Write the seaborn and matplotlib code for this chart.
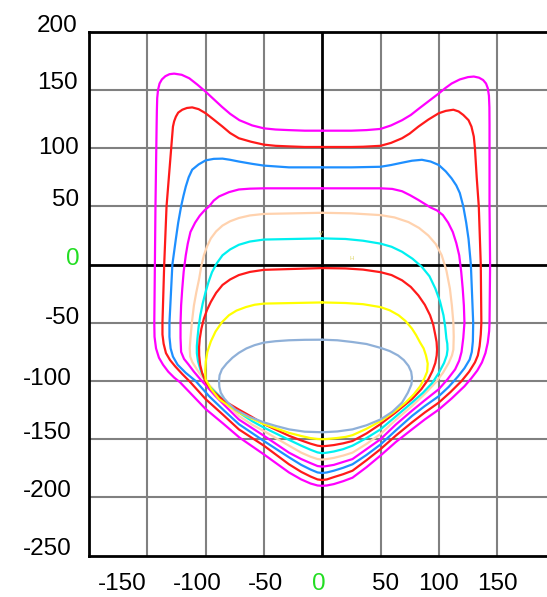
import matplotlib
matplotlib.use("Agg")
import matplotlib.pyplot as plt
import seaborn as sns
import pandas as pd

# ---- data ----
xtick_vals = [-150, -100, -50, 0, 50, 100, 150]
ytick_vals = [-250, -200, -150, -100, -50, 0, 50, 100, 150, 200]
grid_x = [-150, -100, -50, 50, 100, 150]
grid_y = [-200, -150, -100, -50, 50, 100, 150]

c1_x = [0, -15, -29, -40, -50, -60, -71, -79, -86, -93, -100, -107, -114, -120.5, -127, -131, -134.5, -137.5, -139.5, -140.8, -141.5, -141.8, -142, -142.5, -143, -143.5, -144, -143.8, -142.5, -140, -136.5, -132, -127, -122, -111, -100, -85, -71, -50, -28.5, -18, -10, -4, 0, 4, 10, 18, 26, 38, 50, 63, 77, 88, 100, 111, 122, 128, 133, 137, 140, 142, 143.2, 143.5, 144, 143.5, 143.5, 143.5, 143.4, 143, 142, 140.5, 138, 134.5, 130, 125, 118, 111, 105.5, 100, 91.5, 83, 76, 68.5, 59, 50, 38, 25, 0]
c1_y = [115, 115, 115.5, 116, 117, 119.5, 124, 129.5, 135.5, 142, 148.5, 154.5, 160, 163, 164, 163.5, 161.8, 159, 155.5, 150, 143, 132, 120, 85, 50, 0, -50, -62, -72, -80, -86, -92, -97, -101, -112.5, -124, -136.5, -148.5, -163, -178.5, -184.5, -188, -189.7, -190, -189.7, -188.5, -186, -183, -174, -164, -152.5, -141.5, -133, -124.5, -115, -104.5, -97.5, -91, -84, -76, -67, -57, -50, 0, 50, 85, 120, 135, 145, 151.5, 155.5, 158.5, 160.5, 161.5, 161, 159, 155.5, 151.5, 147, 140.5, 134, 128.5, 124, 119.5, 116.5, 115.5, 115, 115]

c2_x = [0, -15, -28.5, -40, -50, -61, -71.5, -79, -85.5, -93, -100, -106, -111.5, -116, -120, -123.5, -125.5, -127, -128, -128.7, -129.5, -131.5, -133.5, -135.5, -137, -137, -136, -134, -130.5, -126, -120, -114, -100, -85, -71.5, -50, -28.5, -18, -10, -4, 0, 4, 10, 18, 26, 38, 50, 63, 77, 88, 100, 110, 119.5, 126, 131, 133.5, 135, 136, 136.5, 136, 134.3, 132.5, 131, 130, 128, 125.5, 121, 117, 112.5, 106, 100, 91, 82.5, 75, 68.5, 59, 50, 35, 25, 0]
c2_y = [101, 101, 101.5, 102, 103, 105.5, 108.5, 113, 118.5, 124.5, 130, 133.5, 135, 134.5, 133, 130.5, 127, 123, 118.5, 110, 100, 75, 50, 0, -50, -60, -68, -76, -82, -87.5, -94, -100, -115.5, -129, -141.5, -155.5, -171.5, -178, -182, -184.5, -185, -184.5, -182.5, -180, -177, -168, -158.5, -147, -135.5, -127, -118.5, -109.5, -100, -92, -84, -78, -70, -60, -50, 0, 50, 75, 100, 110, 118.5, 124, 128.5, 131.5, 133, 132, 130, 124.5, 118.5, 112.5, 108.5, 104.5, 102, 101.2, 101, 101]

c3_x = [0, -28.5, -50, -60, -71.5, -79, -85.5, -93, -100, -106, -111.5, -114.5, -117, -119, -121, -123.5, -125.5, -128.5, -131, -131, -130, -128, -124, -117, -108.5, -97, -84, -71.5, -50, -28.5, -18, -10, -4, 0, 4, 10, 18, 26, 38, 50, 63, 77, 88, 100, 108.5, 116.5, 122, 126.5, 128.3, 129.2, 129.5, 127.5, 125.5, 123.5, 121, 118, 115, 111, 106, 100, 93, 85.5, 77, 68.5, 59, 50, 25, 0]
c3_y = [83.5, 83.5, 85, 86.5, 88.5, 90, 91, 90.8, 89.5, 86, 81.5, 75, 67, 59, 50, 36, 22, 0, -50, -62, -72, -79, -86, -93, -100, -113, -125.5, -137, -151.5, -165.5, -172, -176, -178.5, -179, -178.5, -177, -174.5, -171.5, -163.5, -154.5, -142.5, -130, -121.5, -113, -105, -96, -89, -81.5, -75, -66, -50, 0, 22, 36, 50, 61.5, 68, 74, 80, 85.5, 88.5, 90, 89.2, 87.5, 85.5, 84, 83.5, 83.5]

c4_x = [0, -50, -62, -71.5, -80, -88.5, -93, -97, -101, -105, -109, -113, -115.3, -117, -118.8, -120, -121, -121.5, -121.5, -121, -118.5, -114.5, -110, -104.5, -91.5, -82, -71.5, -50, -28.5, -18, -10, -4, 0, 4, 10, 18, 26, 38, 50, 63, 77, 88, 100, 107.5, 114, 117.5, 119.5, 121, 122, 121.5, 120.5, 119.2, 117.5, 115, 112, 108, 103.5, 98.5, 93, 82.5, 75.5, 68.5, 60, 50, 0]
c4_y = [65.5, 65.5, 65.2, 64.5, 62.2, 58.5, 55, 50, 46.5, 42, 36, 28, 18, 8, -6, -20.5, -35, -50, -63, -75, -81, -86, -92, -98.5, -113, -122.5, -133, -147, -161.5, -167, -170.5, -173, -173.5, -173, -172, -169.5, -167, -158.5, -150, -137.5, -125.5, -116.5, -107, -98.5, -90, -82.5, -75, -63, -50, -35, -20.5, -6, 8, 18.5, 28, 36, 42.5, 46.5, 49, 55.5, 59.5, 63, 65, 65.5, 65.5]

c5_x = [0, -50, -62, -71.5, -79, -85.5, -91, -95.5, -98.8, -101.5, -103.8, -105.5, -108, -110, -111.8, -113, -113.6, -113.2, -111.5, -110, -105.5, -100, -85.5, -71.5, -60, -50, -28.5, -18, -10, -4, 0, 4, 10, 18, 26, 38, 50, 63, 77, 88, 97, 103.5, 108.5, 111.3, 112.5, 112.8, 112.5, 111.2, 109.5, 106.5, 102.5, 97.5, 91, 83, 74, 62, 50, 25, 0]
c5_y = [44.5, 43.5, 42.2, 40, 37.2, 33.5, 28.5, 22.5, 15.5, 8, -2, -12, -24, -35, -50, -63.5, -72, -79, -83.5, -86, -93, -100, -115.5, -130, -137.5, -143, -155.5, -161.5, -165, -167, -167.5, -167, -166, -164, -161.5, -154, -145.5, -133.5, -121.5, -111, -101.5, -93, -84.5, -78, -73, -62, -50, -35, -20.5, -5, 8, 17.5, 25, 31.5, 36.5, 40.5, 42.5, 44, 44.5]

c6_x = [0, -50, -62, -71.5, -79, -85.5, -90.5, -94.5, -97.5, -100, -102.5, -104.5, -106, -107, -107.5, -107.5, -106.5, -104.5, -101.5, -97, -85, -71.5, -60, -50, -28.5, -18, -10, -4, 0, 4, 10, 18, 26, 38, 50, 63, 77, 86.5, 94.5, 100, 104.5, 106.8, 107.5, 107.3, 106.5, 105.5, 104, 101, 97, 92, 85.5, 77.5, 68.5, 59.5, 50, 35, 20, 0]
c6_y = [22.5, 21.5, 19.8, 17, 13, 8, 1, -6.5, -15, -23.5, -33.5, -43.5, -53.5, -63.5, -70, -76, -83, -90, -97, -104.5, -116, -127, -134.5, -140, -150.5, -155.5, -159, -161.3, -162, -161.5, -160.5, -158.5, -155.5, -149, -141.5, -130.5, -118.5, -110, -101.5, -93, -84.5, -78, -73, -68, -63.5, -53.5, -43.5, -31.5, -20.5, -10, -2, 5, 11, 15.3, 18, 20.5, 22, 22.5]

c7_x = [0, -50, -62, -71.5, -79, -85.5, -91, -95.5, -98.8, -101.5, -103.6, -105, -105.6, -105.5, -104.7, -103, -100, -95.5, -85, -71.5, -60, -50, -28.5, -18, -10, -4, 0, 4, 10, 18, 26, 38, 50, 63, 77, 85, 91, 94.5, 97, 98.2, 98.5, 98.1, 97, 95.2, 92.5, 88, 82.5, 76, 68.5, 59.5, 50, 35, 20, 0]
c7_y = [-3, -4.5, -6.3, -9, -12.8, -17.5, -24.3, -32, -39, -46.5, -55, -63.5, -71, -78, -86, -93, -100.5, -107, -116.5, -124.5, -131, -137, -147, -151, -153.8, -155.5, -156, -155.7, -155, -153.5, -151.5, -145, -137, -127, -115.5, -107, -98.5, -91.5, -84.5, -78, -73, -66.5, -60.5, -51.5, -43.5, -34.5, -26.5, -19.2, -13.5, -9, -6.5, -4.3, -3.3, -3]

c8_x = [0, -50, -58, -65.5, -73.5, -80, -86, -91.5, -95.5, -98.5, -99.8, -100.3, -100, -95.5, -88.5, -80, -71.5, -60, -50, -28.5, -18, -10, -4, 0, 4, 12, 20, 26, 38, 50, 61, 71.5, 78.5, 84, 87.5, 90, 90.5, 89, 87, 84, 80.5, 77, 71.5, 65.5, 58, 50, 35, 20, 0]
c8_y = [-32.5, -33.5, -34.5, -36.5, -39.5, -43.5, -49.5, -57.5, -66, -75, -83, -91, -98.5, -106.5, -115.5, -121.5, -127, -132.5, -137, -144.5, -147.2, -149, -149.8, -150, -149.8, -149, -148, -146.5, -141, -134.5, -127, -118.5, -111.5, -104.5, -98, -92, -85, -78, -72, -67, -60.5, -55, -48.5, -43.5, -39.3, -36.5, -34, -33, -32.5]

c9_x = [0, -15, -28.5, -40, -50, -58, -65, -71.5, -77, -82, -86, -88, -88.5, -88.2, -87, -84, -80, -74.5, -63, -50, -40, -28.5, -15, 0, 13, 26, 38, 50, 60, 68.5, 73.5, 76.5, 77, 76.3, 74, 70, 65, 58, 50, 38, 26, 13, 0]
c9_y = [-64.5, -64.6, -65, -65.8, -67, -69.2, -72, -75.8, -80, -85, -90, -95, -100, -105, -110, -115, -119.5, -124.5, -130.5, -135.5, -138.5, -141.5, -143.5, -144, -143.3, -141.5, -138, -133, -126.5, -118.5, -110, -103, -97, -92, -87, -82, -78, -74.3, -71.5, -68.2, -66.5, -65, -64.5]

curves = [
    (c1_x, c1_y, "#ff00ff"),
    (c2_x, c2_y, "#ff1a1a"),
    (c3_x, c3_y, "#1e8fff"),
    (c4_x, c4_y, "#ff00ff"),
    (c5_x, c5_y, "#ffd2ae"),
    (c6_x, c6_y, "#00f0f0"),
    (c7_x, c7_y, "#ff1a1a"),
    (c8_x, c8_y, "#ffff00"),
    (c9_x, c9_y, "#8fb0d8"),
]

# label nudges in pixels (style only)
xlab_dx = {-150: -25, -100: -8, -50: 2, 0: -3, 50: 5, 100: 0, 150: 0}
ylab_dx = {-250: -17, -200: -17, -150: -17, -100: -17, -50: -9, 0: -9, 50: -10, 100: -10, 150: -11, 200: -11}
ylab_dy = {-250: 6.5, -200: 6, -150: 6, -100: 2, -50: 4.5, 0: 6, 50: 6, 100: 0, 150: 6.5, 200: 5.5}

# ---- figure ----
sns.set_style("white")
plt.rcParams["font.family"] = ["Liberation Sans", "DejaVu Sans"]

fig = plt.figure(figsize=(5.47, 5.97), dpi=100)
W, H = 547, 597
left_px, top_px, bottom_px = 89, 31.7, 555.7
width_px = 400 * 1.166
ax = fig.add_axes([left_px / W, (H - bottom_px) / H, width_px / W, (bottom_px - top_px) / H])

for cx, cy, col in curves:
    df = pd.DataFrame({"x": cx, "y": cy})
    sns.lineplot(data=df, x="x", y="y", sort=False, estimator=None,
                 color=col, linewidth=1.6, ax=ax, zorder=3)
for ln in ax.lines:
    ln.set_solid_joinstyle("round")

ax.set_xlim(-200, 200)
ax.set_ylim(-250, 200)
ax.set_xticks([])
ax.set_yticks([])
ax.set_xlabel("")
ax.set_ylabel("")

# grid
for v in grid_x:
    ax.axvline(v, color="#808080", lw=1.5, zorder=1)
for v in grid_y:
    ax.axhline(v, color="#808080", lw=1.5, zorder=1)
ax.axvline(0, color="black", lw=2, zorder=2)
ax.axhline(0, color="black", lw=2, zorder=2)

for s in ["left", "top", "bottom"]:
    ax.spines[s].set_visible(True)
    ax.spines[s].set_color("black")
    ax.spines[s].set_linewidth(2)
ax.spines["right"].set_visible(False)

px2pt = 72 / 100
FS = 17.5
# x labels: baseline about 34 px below the bottom spine
for v in xtick_vals:
    ax.annotate(str(v), xy=(v, 0), xycoords=("data", "axes fraction"),
                xytext=(xlab_dx[v] * px2pt, -34 * px2pt), textcoords="offset points",
                ha="center", va="baseline", fontsize=FS,
                color="#22dd22" if v == 0 else "black", annotation_clip=False)
for v in ytick_vals:
    ax.annotate(str(v), xy=(0, v), xycoords=("axes fraction", "data"),
                xytext=(ylab_dx[v] * px2pt, ylab_dy[v] * px2pt), textcoords="offset points",
                ha="right", va="center", fontsize=FS,
                color="#22dd22" if v == 0 else "black", annotation_clip=False)

# small labels
ax.text(25, 5, "H", fontsize=4.5, color="#e0d870", ha="center", va="center", zorder=4)
ax.text(-1, 27, "V", fontsize=4.5, color="#e0d870", ha="center", va="center", zorder=4)

fig.savefig("out.png", dpi=100)
